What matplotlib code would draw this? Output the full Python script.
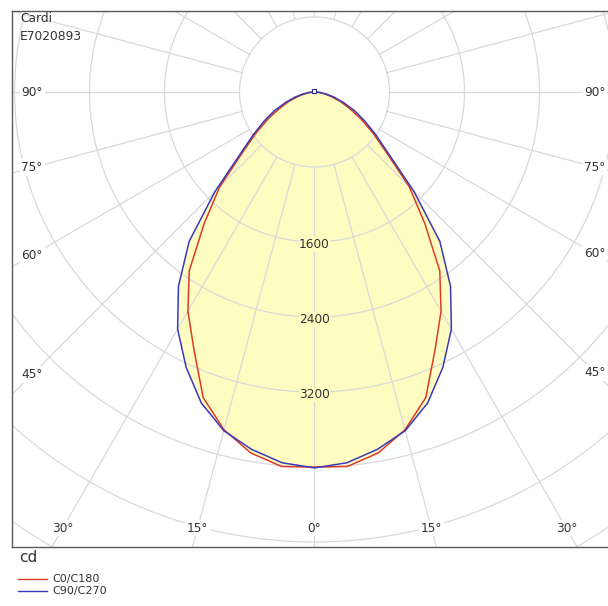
import numpy as np
import matplotlib
matplotlib.use("Agg")
import matplotlib.pyplot as plt
from matplotlib.lines import Line2D
from matplotlib.patches import Polygon

# Luminous intensity distribution (cd) for gamma angles 0..90 deg
gamma = [0, 5, 10, 15, 20, 25, 30, 35, 40, 45, 50, 55, 60, 65, 70, 75, 80, 85, 90]
c0_c180 = [4000, 4010, 3910, 3730, 3470, 3040, 2700, 2330, 1830, 1430, 1000, 760, 570, 410, 290, 180, 100, 45, 0]
c90_c270 = [4010, 3970, 3870, 3740, 3530, 3240, 2920, 2530, 2080, 1500, 1040, 800, 620, 470, 330, 220, 130, 60, 0]

ring_values = [800, 1600, 2400, 3200, 4000, 4800, 5600, 6400, 7200, 8000]
ring_labels = [1600, 2400, 3200]
bottom_angles = [-30, -15, 0, 15, 30]
side_angles = [45, 60, 75, 90]

series_names = ["C0/C180", "C90/C270"]
series_colors = ["#dc3b24", "#3a3ab8"]
fill_color = "#fffcc2"
grid_color = "#d9d9d9"
text_color = "#333333"

W, H = 608, 606
fig = plt.figure(figsize=(W / 100, H / 100), dpi=100)

# axes frame in pixels
left_px, top_px, bottom_px = 12, 11, 547
cx_px, cy_px = 314.5, 92
cd_per_px = 800 / 75.0

ax = fig.add_axes([left_px / W, (H - bottom_px) / H, (W + 30 - left_px) / W, (bottom_px - top_px) / H])
ax.set_xlim((left_px - cx_px) * cd_per_px, (W + 30 - cx_px) * cd_per_px)
ax.set_ylim(-(bottom_px - cy_px) * cd_per_px, (cy_px - top_px) * cd_per_px)
ax.set_aspect("auto")
ax.set_xticks([])
ax.set_yticks([])
for side in ["left", "top", "bottom", "right"]:
    ax.spines[side].set_color("#5a5a5a")
    ax.spines[side].set_linewidth(1.0)


def outline(values):
    g = np.radians(np.array(gamma, dtype=float))
    v = np.array(values, dtype=float)
    # left half from 90 down to 0, then right half from 0 up to 90
    xl = -v[::-1] * np.sin(g[::-1])
    yl = -v[::-1] * np.cos(g[::-1])
    xr = v[1:] * np.sin(g[1:])
    yr = -v[1:] * np.cos(g[1:])
    return np.concatenate([xl, xr]), np.concatenate([yl, yr])


# filled intensity areas
for vals in [c90_c270, c0_c180]:
    x, y = outline(vals)
    ax.add_patch(Polygon(np.column_stack([x, y]), closed=True, facecolor=fill_color,
                         edgecolor="none", zorder=1))

# concentric rings
t = np.linspace(0, 2 * np.pi, 721)
for r in ring_values:
    ax.plot(r * np.cos(t), r * np.sin(t), color=grid_color, lw=0.9, zorder=2)

# radial lines every 15 degrees, starting at the innermost ring
for a in range(0, 360, 15):
    th = np.radians(a)
    dx, dy = np.sin(th), -np.cos(th)
    ax.plot([ring_values[0] * dx, 9000 * dx], [ring_values[0] * dy, 9000 * dy],
            color=grid_color, lw=0.9, zorder=2)

# intensity curves
for vals, col in zip([c0_c180, c90_c270], series_colors):
    x, y = outline(vals)
    ax.plot(x, y, color=col, lw=1.1, zorder=4, solid_joinstyle="miter")

# small marker at the light centre
ax.plot([0], [10], marker="s", ms=3.2, mfc="white", mec="#2a2a8a", mew=0.8, zorder=5)

# ring value labels along the 0 deg axis
for r in ring_labels:
    ax.text(0, -r - 2.5 * cd_per_px, str(r), ha="center", va="center", fontsize=8.7,
            color=text_color, zorder=6,
            bbox=dict(boxstyle="square,pad=0.05", fc=fill_color, ec="none"))

# angle labels along the bottom edge
y_lab = -(528 - cy_px) * cd_per_px
for a in bottom_angles:
    th = np.radians(a)
    x_lab = -y_lab * np.tan(th)
    ax.text(x_lab, y_lab, f"{abs(a)}°", ha="center", va="center", fontsize=8.7,
            color=text_color, zorder=6,
            bbox=dict(boxstyle="square,pad=0.15", fc="white", ec="none"))

# angle labels along both sides
for xs_px in [32, 595]:
    x_lab = (xs_px - cx_px) * cd_per_px
    for a in side_angles:
        th = np.radians(a)
        y_l = -abs(x_lab) * np.cos(th) / np.sin(th)
        ax.text(x_lab, y_l, f"{a}°", ha="center", va="center", fontsize=8.7,
                color=text_color, zorder=6,
                bbox=dict(boxstyle="square,pad=0.15", fc="white", ec="none"))

# header text
fig.text(20 / W, 1 - 18 / H, "Cardi", ha="left", va="center", fontsize=8.8, color=text_color)
fig.text(20 / W, 1 - 37 / H, "E7020893", ha="left", va="center", fontsize=8.8, color=text_color)

# unit and legend
fig.text(19 / W, 1 - 557 / H, "cd", ha="left", va="center", fontsize=11, color=text_color)
for i, (name, col) in enumerate(zip(series_names, series_colors)):
    yy = 1 - (579 + 12 * i) / H
    fig.add_artist(Line2D([18 / W, 47 / W], [yy, yy], color=col, lw=1.0))
    fig.text(52 / W, yy, name, ha="left", va="center", fontsize=8.0, color=text_color)

fig.savefig("out.png", dpi=100)
